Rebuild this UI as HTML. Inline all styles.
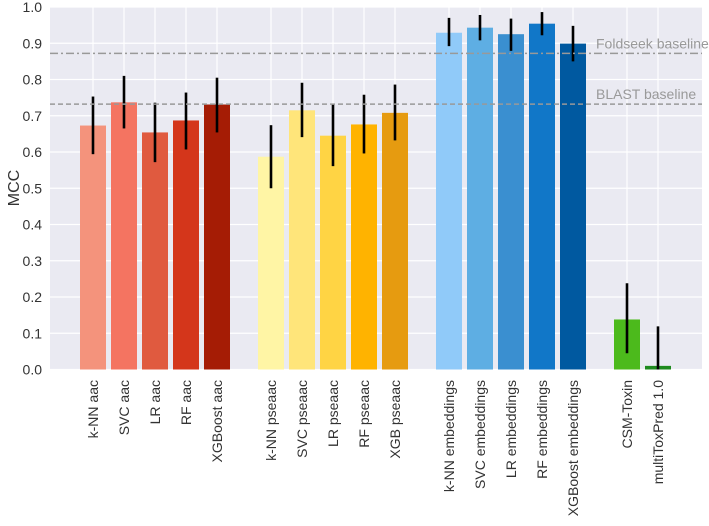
<!DOCTYPE html>
<html><head><meta charset="utf-8"><style>
html,body{margin:0;padding:0;background:#fff;}
svg text{font-family:"Liberation Sans",sans-serif;}
</style></head><body>
<svg id="chart" width="709" height="521" xmlns="http://www.w3.org/2000/svg">
<rect x="50" y="7" width="652" height="362.5" fill="#eaeaf2"/>
<g id="grid"></g><g id="bars"></g><g id="errs"></g><g id="base"></g><g id="xt"></g><g id="yt"></g>
<text x="19" y="188" font-size="16" fill="#333" text-anchor="middle" transform="rotate(-90 19 188)">MCC</text>
</svg>
<script>
const categories=["k-NN aac","SVC aac","LR aac","RF aac","XGBoost aac","k-NN pseaac","SVC pseaac","LR pseaac","RF pseaac","XGB pseaac","k-NN embeddings","SVC embeddings","LR embeddings","RF embeddings","XGBoost embeddings","CSM-Toxin","multiToxPred 1.0"];
const groupIndex=[0,0,0,0,0,1,1,1,1,1,2,2,2,2,2,3,3];
const values=[0.673,0.737,0.654,0.687,0.731,0.587,0.715,0.645,0.676,0.708,0.929,0.943,0.925,0.954,0.899,0.138,0.010];
const errLow=[0.594,0.665,0.572,0.607,0.654,0.500,0.641,0.561,0.596,0.632,0.892,0.908,0.879,0.922,0.850,0.045,-0.10];
const errHigh=[0.753,0.810,0.736,0.764,0.805,0.674,0.791,0.731,0.758,0.786,0.970,0.978,0.968,0.986,0.948,0.238,0.119];
const colors=["#f4937c","#f47461","#e05a3f","#d4361b","#a51c05","#fff5a5","#ffe57a","#ffd444","#ffb300","#e69b10","#90caf9","#5eaee3","#3a8fd0","#1177c8","#0059a0","#4cba1c","#1e8a1e"];
const yTicks=[0,0.1,0.2,0.3,0.4,0.5,0.6,0.7,0.8,0.9,1.0];
const baselineNames=["Foldseek baseline","BLAST baseline"];
const baselineValues=[0.872,0.732];
const NS="http://www.w3.org/2000/svg";
const y0=369.5,yTop=7;
function yS(v){return y0-Math.max(v,0)*(y0-yTop);}
function xS(i){let g=groupIndex[i];let first=groupIndex.indexOf(g);return 93+g*178+(i-first)*31;}
function mk(p,tag,a){const e=document.createElementNS(NS,tag);for(const k in a)e.setAttribute(k,a[k]);document.getElementById(p).appendChild(e);return e;}
yTicks.forEach((t,i)=>{
 const l=mk("grid","line",{x1:50,x2:702,y1:yS(t),y2:yS(t),stroke:"#fff","stroke-width":1.2});
 
 
 const tx=mk("yt","text",{x:42,y:yS(t)+5,"font-size":14,fill:"#333","text-anchor":"end"});
 tx.textContent=t.toFixed(1);
 
 
});
categories.forEach((c,i)=>{
 const x=xS(i);
 const g=mk("grid","line",{x1:x,x2:x,y1:yTop,y2:y0,stroke:"#fff","stroke-width":1.2});
 
 
 const b=mk("bars","rect",{x:x-13,y:yS(values[i]),width:26,height:y0-yS(values[i]),fill:colors[i]});
 
 
 const e=mk("errs","line",{x1:x,x2:x,y1:yS(errHigh[i]),y2:Math.min(yS(errLow[i]),y0),stroke:"#000","stroke-width":2.6});
 
 
 const t=mk("xt","text",{x:0,y:0,"font-size":14,fill:"#333","text-anchor":"end",transform:`translate(${x+5},380) rotate(-90)`});
 t.textContent=c;
 
 
});
baselineValues.forEach((v,i)=>{
 const l=mk("base","line",{x1:50,x2:702,y1:yS(v),y2:yS(v),stroke:"#999","stroke-width":1.5,"stroke-dasharray":i==0?"8,3,2,3":"5,3"});
 
 
 const t=mk("base","text",{x:596,y:yS(v)-5,"font-size":14,fill:"#999"});
 t.textContent=baselineNames[i];
 
 
});
</script>
</body></html>
